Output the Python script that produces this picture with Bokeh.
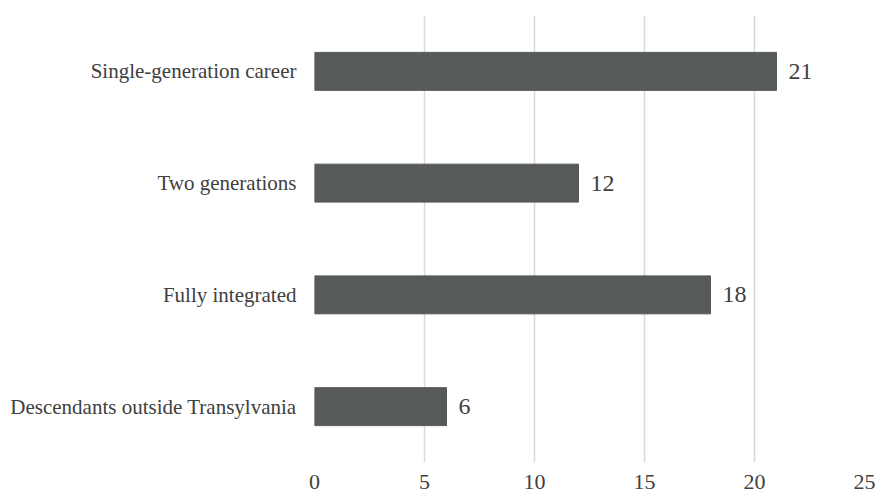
from bokeh.plotting import figure
from bokeh.models import ColumnDataSource, FactorRange, Range1d, FixedTicker, LabelSet
from bokeh.embed import file_html
from bokeh.resources import INLINE

# Categories listed top to bottom, with their counts
categories = [
    "Single-generation career",
    "Two generations",
    "Fully integrated",
    "Descendants outside Transylvania",
]
counts = [21, 12, 18, 6]
x_ticks = [0, 5, 10, 15, 20, 25]

FONT = "Liberation Serif"
TEXT_COLOR = "#404040"
BAR_COLOR = "#575A5B"
GRID_COLOR = "#D9D9D9"

source = ColumnDataSource(dict(
    cat=categories,
    count=counts,
    label=[str(c) for c in counts],
))

p = figure(
    y_range=FactorRange(factors=categories[::-1], range_padding=0),
    x_range=Range1d(0, 25),
    width=878,
    height=501,
    min_border_left=314,
    min_border_right=14,
    min_border_top=15,
    min_border_bottom=39,
    output_backend="svg",
    toolbar_location=None,
)

p.hbar(y="cat", right="count", left=0, height=0.34, source=source,
       fill_color=BAR_COLOR, line_color=BAR_COLOR)

labels = LabelSet(x="count", y="cat", text="label", source=source,
                  x_offset=12, text_baseline="middle", text_align="left",
                  text_font=FONT, text_font_size="24px", text_color=TEXT_COLOR)
p.add_layout(labels)

# Axes: no lines or ticks, only labels
p.xaxis.ticker = FixedTicker(ticks=x_ticks)
p.xaxis.axis_line_color = None
p.xaxis.major_tick_line_color = None
p.xaxis.minor_tick_line_color = None
p.xaxis.major_tick_out = 0
p.xaxis.major_label_standoff = 12
p.xaxis.major_label_text_font = FONT
p.xaxis.major_label_text_font_size = "22px"
p.xaxis.major_label_text_color = TEXT_COLOR

p.yaxis.axis_line_color = None
p.yaxis.major_tick_line_color = None
p.yaxis.major_tick_out = 0
p.yaxis.major_label_standoff = 18
p.yaxis.major_label_text_font = FONT
p.yaxis.major_label_text_font_size = "21px"
p.yaxis.major_label_text_color = TEXT_COLOR

p.xgrid.grid_line_color = GRID_COLOR
p.xgrid.grid_line_width = 1.5
p.ygrid.grid_line_color = None
p.outline_line_color = None
p.background_fill_color = "white"
p.border_fill_color = "white"

open("out.html", "w").write(file_html(p, INLINE))
